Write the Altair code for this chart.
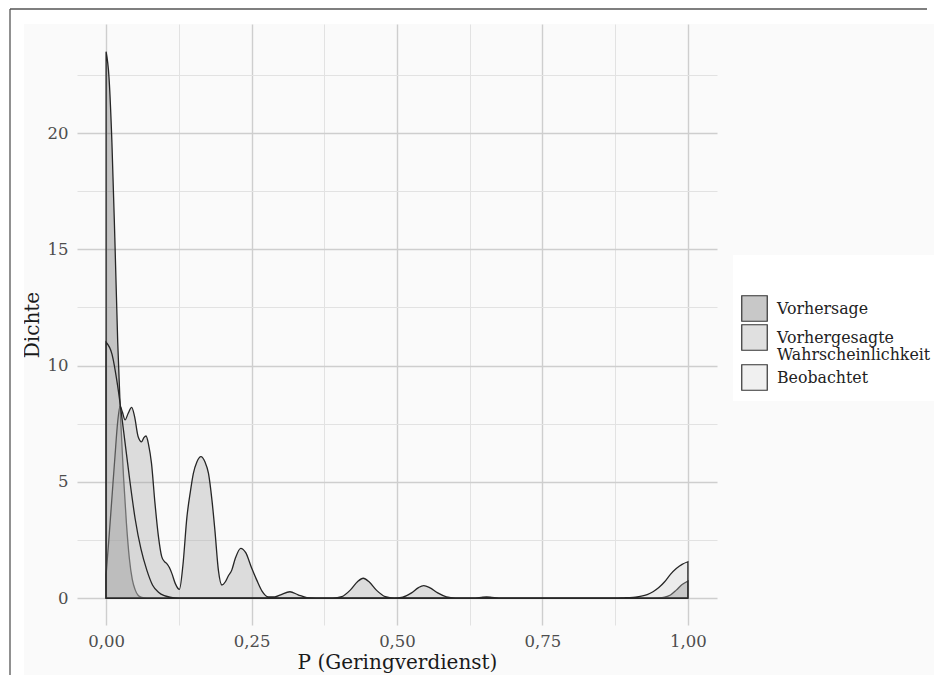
import altair as alt
import pandas as pd

series_names = ["Vorhersage", "Vorhergesagte Wahrscheinlichkeit", "Beobachtet"]

# Vorhersage (predicted class) density
vh_x = [0.0, 0.005, 0.01, 0.015, 0.02, 0.025, 0.03, 0.035, 0.04, 0.045, 0.05, 0.055, 0.06, 0.07,
        0.93, 0.95, 0.96, 0.97, 0.98, 0.99, 1.0]
vh_y = [23.5, 22.4, 19.6, 15.5, 11.0, 7.7, 5.2, 3.2, 1.7, 0.8, 0.35, 0.12, 0.04, 0.0,
        0.0, 0.01, 0.04, 0.13, 0.34, 0.58, 0.73]

# Vorhergesagte Wahrscheinlichkeit (predicted probability) density
vw_x = [0.0, 0.005, 0.01, 0.015, 0.02, 0.024, 0.028, 0.0326, 0.038, 0.044, 0.049, 0.055, 0.061,
        0.065, 0.0687, 0.073, 0.078, 0.084, 0.09, 0.0956, 0.1, 0.104, 0.109, 0.113, 0.119, 0.126,
        0.132, 0.139, 0.145, 0.15, 0.156, 0.163, 0.17, 0.176, 0.182, 0.187, 0.193, 0.199, 0.205,
        0.21, 0.216, 0.222, 0.2314, 0.24, 0.25, 0.259, 0.268, 0.279, 0.29, 0.3, 0.316, 0.33, 0.345,
        0.36, 0.39, 0.405, 0.42, 0.432, 0.442, 0.452, 0.465, 0.48, 0.495, 0.51, 0.525, 0.537, 0.546,
        0.556, 0.57, 0.585, 0.6, 0.635, 0.645, 0.654, 0.663, 0.675, 1.0]
vw_y = [1.0, 2.6, 4.3, 6.0, 7.6, 8.25, 8.0, 7.66, 7.95, 8.2, 7.8, 6.95, 6.72,
        6.9, 6.97, 6.6, 5.8, 4.08, 2.64, 1.78, 1.58, 1.49, 1.3, 1.06, 0.62, 0.37,
        1.4, 3.5, 4.6, 5.36, 5.85, 6.08, 5.85, 5.36, 4.2, 2.92, 1.2, 0.56, 0.7,
        0.95, 1.2, 1.7, 2.14, 1.95, 1.3, 0.77, 0.3, 0.05, 0.05, 0.14, 0.27, 0.14, 0.02,
        0.0, 0.0, 0.06, 0.35, 0.7, 0.85, 0.7, 0.33, 0.06, 0.0, 0.04, 0.22, 0.45, 0.53,
        0.45, 0.22, 0.05, 0.0, 0.0, 0.03, 0.05, 0.03, 0.0, 0.0]

# Beobachtet (observed) density
bo_x = [0.0, 0.01, 0.02, 0.03, 0.04, 0.05, 0.06, 0.07, 0.08, 0.09, 0.1, 0.11, 0.12, 0.13,
        0.88, 0.89, 0.9, 0.91, 0.92, 0.93, 0.94, 0.95, 0.96, 0.97, 0.98, 0.99, 1.0]
bo_y = [11.0, 10.5, 9.1, 7.2, 5.2, 3.4, 2.1, 1.2, 0.55, 0.25, 0.1, 0.04, 0.01, 0.0,
        0.0, 0.01, 0.02, 0.04, 0.08, 0.15, 0.27, 0.45, 0.7, 1.02, 1.27, 1.45, 1.56]

x_ticks = [0, 0.125, 0.25, 0.375, 0.5, 0.625, 0.75, 0.875, 1.0]
y_ticks = [0, 2.5, 5, 7.5, 10, 12.5, 15, 17.5, 20, 22.5]

df = pd.concat([
    pd.DataFrame({"x": vh_x, "y": vh_y, "series": series_names[0]}),
    pd.DataFrame({"x": vw_x, "y": vw_y, "series": series_names[1]}),
    pd.DataFrame({"x": bo_x, "y": bo_y, "series": series_names[2]}),
])

FONT = "DejaVu Serif"
fill_range = ["rgba(51,51,51,0.27)", "rgba(152,152,152,0.3)", "rgba(204,204,204,0.3)"]
x_major = "abs(datum.value*4 - round(datum.value*4)) < 0.001"

x_enc = alt.X(
    "x:Q",
    scale=alt.Scale(domain=[-0.05, 1.05], nice=False, zero=False),
    axis=alt.Axis(
        values=x_ticks,
        labelExpr=x_major + " ? replace(format(datum.value, '.2f'), '.', ',') : ''",
        title="P (Geringverdienst)",
        grid=True,
        gridColor={"condition": {"test": x_major, "value": "#cecece"}, "value": "#e2e2e2"},
        gridWidth={"condition": {"test": x_major, "value": 1.4}, "value": 1.0},
        domain=False, ticks=False, labelPadding=8, titlePadding=3,
    ),
)
y_enc = alt.Y(
    "y:Q",
    scale=alt.Scale(domain=[-1.16, 24.69], nice=False, zero=False),
    axis=alt.Axis(
        values=y_ticks,
        labelExpr="datum.value % 5 === 0 ? format(datum.value, 'd') : ''",
        title="Dichte",
        grid=True,
        gridColor={"condition": {"test": "datum.value % 5 === 0", "value": "#cecece"}, "value": "#e2e2e2"},
        gridWidth={"condition": {"test": "datum.value % 5 === 0", "value": 1.4}, "value": 1.0},
        domain=False, ticks=False, labelPadding=9, titlePadding=5,
    ),
)
fill_enc = alt.Fill(
    "series:N",
    scale=alt.Scale(domain=series_names, range=fill_range),
    legend=alt.Legend(
        title=" ", orient="none", legendX=656, legendY=231,
        symbolType="square", symbolSize=650, symbolStrokeColor="#333333", symbolStrokeWidth=1.2,
        labelFont=FONT, labelFontSize=15.8, labelColor="#222222", labelLimit=400, labelOffset=9,
        labelExpr="datum.label == 'Vorhergesagte Wahrscheinlichkeit' ? ['Vorhergesagte', 'Wahrscheinlichkeit'] : datum.label",
        titleFontSize=18, titlePadding=14, fillColor="white", padding=8, rowPadding=-5,
    ),
)

layers = []
for name in series_names:
    layers.append(
        alt.Chart(df).transform_filter(alt.datum.series == name)
        .mark_area(stroke="#262626", strokeWidth=1.3, interpolate="monotone")
        .encode(x=x_enc, y=y_enc, fill=fill_enc)
    )

deco = pd.DataFrame({"k": [0]})
white_left = alt.Chart(deco).mark_rect(fill="white").encode(
    x=alt.value(-69), x2=alt.value(-53), y=alt.value(-16), y2=alt.value(700))
white_top = alt.Chart(deco).mark_rect(fill="white").encode(
    x=alt.value(-69), x2=alt.value(857), y=alt.value(-16), y2=alt.value(0))
frame_left = alt.Chart(deco).mark_rule(color="#555555", strokeWidth=1.3).encode(
    x=alt.value(-67), y=alt.value(-15), y2=alt.value(700))
frame_top = alt.Chart(deco).mark_rule(color="#555555", strokeWidth=1.3).encode(
    x=alt.value(-67), x2=alt.value(850), y=alt.value(-15))

chart = alt.layer(white_left, white_top, frame_left, frame_top, *layers).properties(
    width=640, height=601,
    padding={"left": 69, "top": 16, "right": 217, "bottom": 50},
    autosize=alt.AutoSizeParams(type="none"),
    background="#fafafa",
).configure_view(stroke=None).configure_axis(
    labelFont=FONT, titleFont=FONT, labelFontSize=16.5, titleFontSize=20,
    labelColor="#4d4d4d", titleColor="#1a1a1a", titleFontWeight="normal",
).configure_legend(titleFont=FONT)

chart.save("out.html", embed_options={"renderer": "svg", "actions": False})
